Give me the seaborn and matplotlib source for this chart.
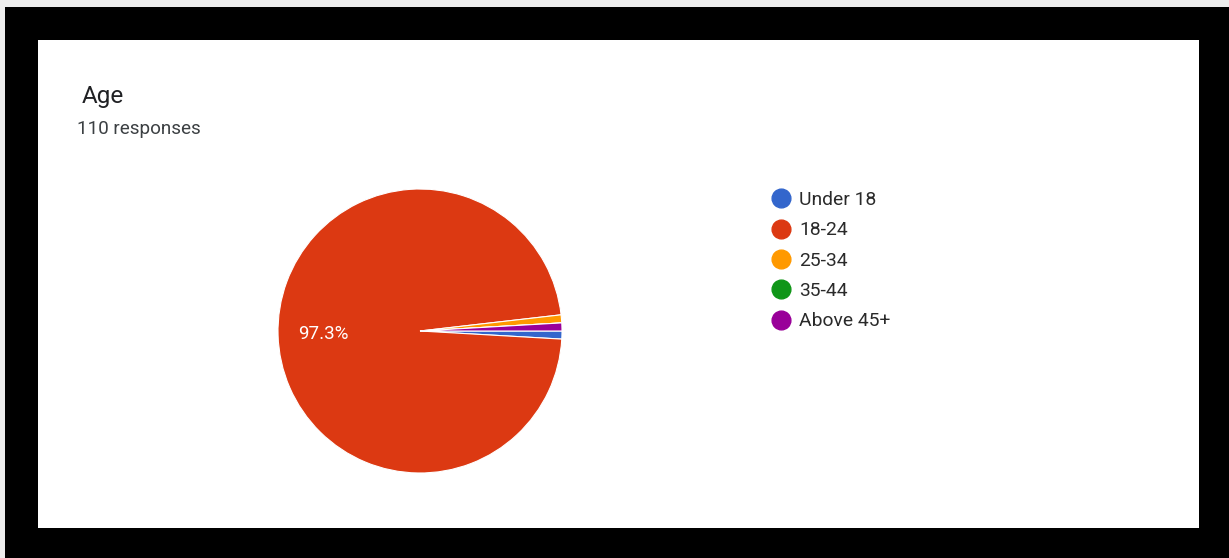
import matplotlib
matplotlib.use("Agg")
import matplotlib.pyplot as plt
from matplotlib.patches import Rectangle
from matplotlib.lines import Line2D
import seaborn as sns

# Survey data: age groups of respondents
categories = ["Under 18", "18-24", "25-34", "35-44", "Above 45+"]
counts = [1, 107, 1, 0, 1]
colors = ["#3366CC", "#DC3912", "#FF9900", "#109618", "#990099"]
title = "Age"
subtitle = "110 responses"

sns.set_theme(style="white")
plt.rcParams["font.family"] = ["Roboto", "DejaVu Sans"]

W, H = 1229, 558
fig = plt.figure(figsize=(W / 100, H / 100), dpi=100)
fig.patch.set_facecolor("black")


def px_rect(x0, y0, x1, y1, color, z=-5):
    """Rectangle given in pixel coordinates measured from the top-left corner."""
    fig.patches.append(Rectangle((x0 / W, 1 - y1 / H), (x1 - x0) / W, (y1 - y0) / H,
                                 transform=fig.transFigure, facecolor=color,
                                 edgecolor="none", zorder=z))


# thin light margin outside the black frame, and the white card inside it
px_rect(0, 0, 5, H, "#eeeeee")
px_rect(0, 0, W, 7, "#eeeeee")
px_rect(38, 40, 1198.5, 527.5, "white")

fig.text(82 / W, 1 - 96 / H, title, fontsize=17.5, color="#202124",
         va="center", ha="left")
fig.text(77 / W, 1 - 129 / H, subtitle, fontsize=13.6, color="#3c4043",
         va="center", ha="left")

# Pie: centre (420, 331) px, radius 142 px
cx, cy, r = 420, 331, 142
pad = 4
ax = fig.add_axes([(cx - r - pad) / W, 1 - (cy + r + pad) / H,
                   2 * (r + pad) / W, 2 * (r + pad) / H])
ax.set_facecolor("none")
ax.set_zorder(2)
pal = sns.color_palette(colors)


def pct_label(p):
    return f"{p:.1f}%" if p > 5 else ""


wedges, texts, autotexts = ax.pie(
    counts, colors=pal, startangle=0, counterclock=False, radius=1,
    autopct=pct_label, pctdistance=0.68,
    wedgeprops=dict(edgecolor="white", linewidth=0.8),
    textprops=dict(color="white", fontsize=13.5),
)
ax.set_xlim(-1 - pad / r, 1 + pad / r)
ax.set_ylim(-1 - pad / r, 1 + pad / r)
ax.set_aspect("equal")
ax.axis("off")

handles = [Line2D([], [], marker="o", linestyle="none", markersize=13.5,
                  markerfacecolor=c, markeredgecolor=c) for c in pal]
leg = fig.legend(handles, categories, loc="upper left",
                 bbox_to_anchor=(772 / W, 1 - 191 / H),
                 frameon=False, fontsize=13.9, labelspacing=0.64,
                 handlelength=0.9, handletextpad=0.5, borderpad=0,
                 borderaxespad=0)
for t in leg.get_texts():
    t.set_color("#2a2a2a")

fig.savefig("out.png", dpi=100, facecolor=fig.get_facecolor())
